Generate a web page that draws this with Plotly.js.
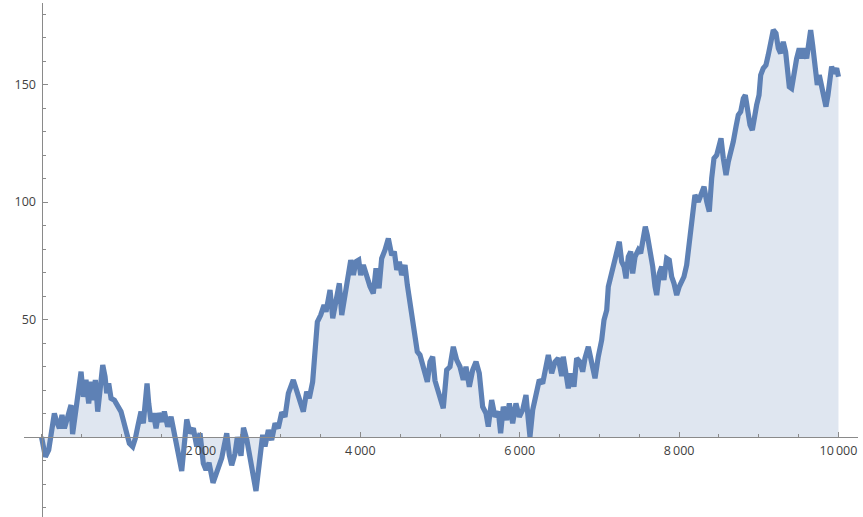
<!DOCTYPE html>
<html>
<head>
<meta charset="utf-8">
<script src="https://cdn.plot.ly/plotly-3.0.1.min.js"></script>
<style>
  html, body { margin: 0; padding: 0; background: #fff; }
  #chart { width: 863px; height: 517px; }
</style>
</head>
<body>
<div id="chart"></div>
<script>
// Random walk: step index and running position
const walkStep = [
  0, 48, 90, 119, 161, 190, 224, 257, 287, 329, 370, 390, 433, 466, 496, 525, 558, 592, 621, 650,
  675, 705, 734, 768, 797, 818, 843, 872, 914, 956, 997, 1026, 1060, 1102, 1144, 1177, 1207, 1248, 1277, 1311,
  1324, 1345, 1374, 1403, 1437, 1470, 1512, 1541, 1583, 1625,
  1675, 1759, 1822, 1863, 1905, 1947, 1989, 2030, 2064, 2102, 2152, 2177, 2218, 2261, 2290, 2324, 2356, 2386,
  2428, 2457, 2503, 2534, 2575, 2616, 2654, 2691, 2733, 2775, 2804, 2846, 2888, 2930, 2971, 3014, 3055, 3097,
  3159, 3202, 3243, 3285, 3327, 3360,
  3402, 3432, 3461, 3503, 3545, 3570, 3620, 3654, 3695, 3737, 3767, 3808, 3850, 3880, 3913, 3946, 3980, 4005,
  4038, 4080, 4122, 4163, 4197, 4235, 4268, 4310, 4352, 4394, 4427, 4457, 4490, 4519, 4561, 4590, 4624, 4657,
  4686, 4715, 4749, 4783, 4812, 4841, 4875, 4908, 4937, 4991, 5041,
  5084, 5125, 5167, 5209, 5251, 5292, 5326, 5368, 5410, 5452, 5493, 5535, 5577, 5606, 5648, 5690, 5732, 5761,
  5794, 5836, 5870, 5912, 5953, 5995, 6037, 6079, 6108, 6129, 6163, 6205, 6246, 6288, 6330, 6359, 6401, 6443,
  6484, 6527,
  6547, 6581, 6610, 6640, 6681, 6715, 6757, 6790, 6819, 6861, 6903, 6945, 6986, 7029, 7058, 7092, 7112, 7142,
  7167, 7196, 7225, 7250, 7280, 7309, 7334, 7363, 7393, 7418, 7447, 7488, 7518, 7551, 7576, 7601, 7635, 7669,
  7698, 7719, 7752, 7782, 7810, 7844, 7877, 7907, 7936, 7970, 8002, 8032, 8061, 8095, 8115, 8145, 8171,
  8199, 8241, 8284, 8313, 8347, 8379, 8409, 8438, 8472, 8505, 8526, 8555, 8589, 8618, 8648, 8680, 8714, 8743,
  8773, 8806, 8831, 8856, 8890, 8919, 8944, 8973, 9003, 9024, 9056, 9090, 9119, 9149, 9182, 9216, 9245, 9274,
  9307, 9337, 9362, 9383, 9412, 9442, 9475, 9508, 9538, 9567, 9601, 9630, 9651, 9676, 9705, 9734, 9759, 9789,
  9818, 9843, 9868, 9893, 9914, 9943, 9977, 10000
];

const walkValue = [
  0, -8.4, -5.5, 0, 10, 6.5, 3.7, 9.4, 3.7, 8.6, 13.6, 1.2, 12.2, 24.3, 27.8, 17.1, 24.3, 14.3, 23.5, 15.7,
  24.3, 10.8, 21.4, 30.6, 25.7, 18.6, 22.8, 16.5, 15.7, 13.6, 10.8, 7.2, 2.3, -2.7, -4.1, -0.6, 4.4, 10.8, 5.8, 15.7,
  22.8, 14.3, 6.5, 10.1, 3.7, 10.1, 6.5, 10.8, 4.4, 8.6,
  0, -14.5, 7.5, 1.6, 3.7, -4, 1.6, -11.2, -14, -11, -19.5, -17, -12.6, -9, -4, 1.6, -7.7, -12,
  -7, 0, -8, 4, -1, -8.4, -15, -23, -11, 0.9, -4, 3, -1.3, 5.8, 3.7, 10.5, 8.6, 18.6,
  24.3, 19, 15, 10.8, 19.3, 16.5,
  23.5, 36.3, 49, 51.9, 56.2, 53.3, 62.6, 50.5, 57.6, 65.4, 51.9, 61.1, 67.5, 75.3, 68.9, 74.6, 75.3, 68.9,
  73.2, 67.5, 64, 61.1, 71.8, 63.3, 76, 79.6, 84.5, 77.4, 78.9, 71.1, 74.6, 68.9, 73.2, 64.7, 56.2, 47.7,
  40.6, 36.3, 34.9, 30.6, 27.8, 23.5, 32, 34.2, 24, 18.6, 12.2,
  28.5, 29.9, 38.4, 32.8, 29.9, 24.3, 29.9, 21.4, 28.5, 32, 27.1, 12.9, 10.1, 4.4, 15.7, 8.6, 10.8, 1.6,
  12.9, 7.2, 14.3, 5.8, 14.3, 8.6, 11.5, 17.9, 7.2, 0.1, 11.5, 18.6, 24.3, 22.8, 29.9, 34.9, 27.1, 32,
  33.5, 26,
  34.2, 27.1, 20.7, 27.1, 21.4, 33.5, 32, 27.8, 33.5, 38.4, 32.8, 25, 34.2, 41.3, 49.8, 54, 64, 68.2,
  73.2, 75.3, 80.3, 83.1, 74.6, 72.5, 67.5, 76.7, 78.9, 69.6, 76.7, 79.6, 78.2, 86.7, 89.5, 86, 79.6, 72.5,
  64, 60.4, 69.6, 72.5, 66.8, 76, 75.3, 68.2, 65.4, 60.4, 64, 66.8, 68.2, 73.2, 79.6, 86.7, 93.8,
  103, 100.1, 104.4, 106.5, 100.1, 95.9, 110.1, 118.6, 120, 125.7, 127.1, 118.6, 111.5, 117.2, 122.8, 125.7, 132, 137,
  138.4, 144.1, 145.5, 138.4, 132.8, 130.6, 137, 141.3, 145.5, 154, 156.9, 158.3, 162.6, 168.2, 173.2, 171.8, 165.4, 163.3,
  168.2, 163.9, 155.4, 149, 148.3, 156.1, 161.1, 165.4, 161.1, 165.4, 161.1, 168.2, 173.2, 166.8, 156.9, 149.8, 154, 149.8,
  145.5, 140.6, 145.5, 151.1, 157.6, 154.7, 156.9, 153.3
];

// Tick marks and labels
const xTickVals = [2000, 4000, 6000, 8000, 10000];
const xTickText = ['2\u2009000', '4\u2009000', '6\u2009000', '8\u2009000', '10\u2009000'];
const yTickVals = [50, 100, 150];
const yTickText = ['50', '100', '150'];

const xRange = [-220, 10245];
const yRange = [-34.04, 184.7];

const axisGray = '#8a8a8a';
const labelFont = { family: 'Open Sans, Liberation Sans, sans-serif', size: 12.5, color: '#3f3f3f' };

const trace = {
  x: walkStep,
  y: walkValue,
  type: 'scatter',
  mode: 'lines',
  fill: 'tozeroy',
  fillcolor: 'rgb(223,230,240)',
  line: { color: 'rgb(94,129,181)', width: 5.2 },
  hoverinfo: 'skip'
};

const layout = {
  width: 863,
  height: 517,
  margin: { l: 24, r: 5, t: 3, b: 0 },
  paper_bgcolor: '#fff',
  plot_bgcolor: '#fff',
  showlegend: false,
  xaxis: {
    range: xRange,
    anchor: 'free',
    position: (0 - yRange[0]) / (yRange[1] - yRange[0]),
    showline: true, linecolor: axisGray, linewidth: 1.3,
    showgrid: false, zeroline: false,
    tickmode: 'array', tickvals: xTickVals, ticktext: xTickText,
    ticks: 'inside', ticklen: 5, tickwidth: 1, tickcolor: axisGray,
    ticklabelstandoff: 2,
    minor: { tick0: 0, dtick: 500, ticks: 'inside', ticklen: 3, tickwidth: 1, tickcolor: axisGray, showgrid: false },
    tickfont: labelFont
  },
  yaxis: {
    range: yRange,
    anchor: 'free',
    position: (0 - xRange[0]) / (xRange[1] - xRange[0]),
    showline: true, linecolor: axisGray, linewidth: 1.3,
    showgrid: false, zeroline: false,
    tickmode: 'array', tickvals: yTickVals, ticktext: yTickText,
    ticks: 'inside', ticklen: 5, tickwidth: 1, tickcolor: axisGray,
    ticklabelstandoff: 3,
    minor: { tick0: 0, dtick: 10, ticks: 'inside', ticklen: 3, tickwidth: 1, tickcolor: axisGray, showgrid: false },
    tickfont: labelFont
  }
};

Plotly.newPlot('chart', [trace], layout, { displayModeBar: false, staticPlot: true });
</script>
</body>
</html>
